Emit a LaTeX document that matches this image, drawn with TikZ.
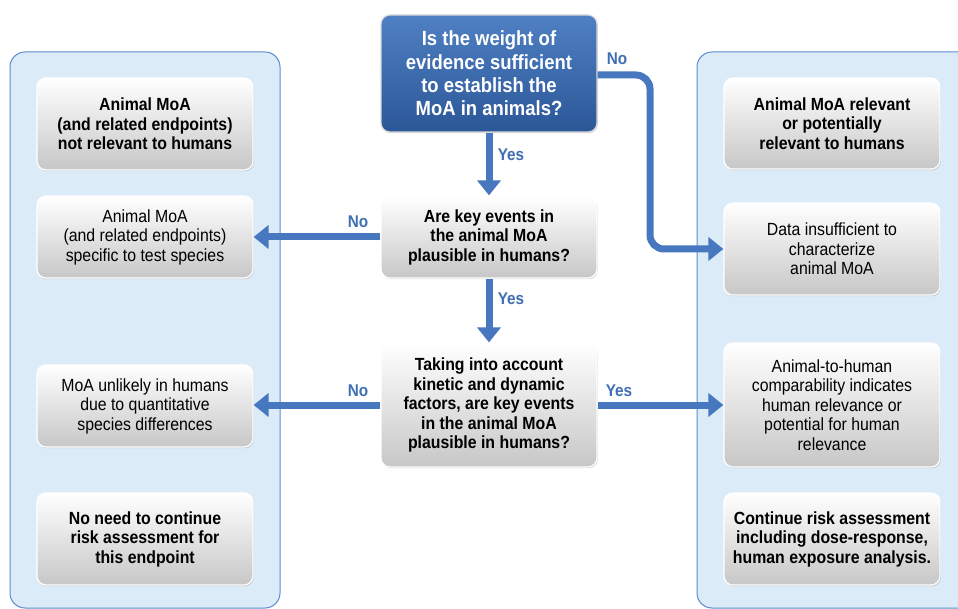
\documentclass[tikz,border=0pt]{standalone}
\usepackage{fontspec}
\setmainfont[FakeStretch=0.9]{Liberation Sans}
\usetikzlibrary{shadows,arrows.meta}
\definecolor{arrowblue}{HTML}{4677BF}
\definecolor{panelfill}{HTML}{DCEBF8}
\definecolor{paneldraw}{HTML}{5B8BD0}
\definecolor{qtop}{HTML}{4F80C3}
\definecolor{qbot}{HTML}{2B5797}
\definecolor{labelblue}{HTML}{3F6FB5}
\begin{document}
\begin{tikzpicture}[x=1pt,y=-1pt,
  panel/.style={fill=panelfill, draw=paneldraw, line width=1pt, rounded corners=15pt},
  graybox/.style={rectangle, rounded corners=9pt, minimum width=216pt, inner sep=0pt, align=center,
    top color=white, bottom color=black!22, draw=white, line width=1.2pt,
    drop shadow={shadow xshift=0.8pt, shadow yshift=-1.2pt, opacity=0.35},
    font=\fontsize{17.6}{19.5}\selectfont, text=black},
  boldtext/.style={font=\fontsize{17.6}{19.5}\selectfont\bfseries},
  bluebox/.style={rectangle, rounded corners=9pt, minimum width=216pt, inner sep=0pt, align=center,
    top color=qtop, bottom color=qbot, draw=white!85!black, line width=1.2pt,
    drop shadow={shadow xshift=0.8pt, shadow yshift=-1.2pt, opacity=0.35},
    font=\fontsize{20.5}{23.3}\selectfont\bfseries, text=white},
  conn/.style={draw=arrowblue, line width=7pt, -{Triangle[length=15pt,width=23pt]}},
  lab/.style={text=labelblue, font=\fontsize{17}{19}\selectfont\bfseries, inner sep=0pt}
]
\path[use as bounding box, clip] (0,0) rectangle (958,609);
\fill[white] (0,0) rectangle (958,609);

% panels
\draw[panel] (10,52) rectangle (280,608);
\draw[panel] (697,52) rectangle (990,608);

% central questions
\node[bluebox, minimum height=117pt] (q1) at (489,73.5)
  {Is the weight of\\evidence sufficient\\to establish the\\MoA in animals?};
\node[graybox, boldtext, minimum height=82pt] (q2) at (489,237)
  {Are key events in\\the animal MoA\\plausible in humans?};
\node[graybox, boldtext, minimum height=124pt] (q3) at (489,405)
  {Taking into account\\kinetic and dynamic\\factors, are key events\\in the animal MoA\\plausible in humans?};

% left column
\node[graybox, boldtext, minimum height=92pt] (L1) at (145,124)
  {Animal MoA\\(and related endpoints)\\not relevant to humans};
\node[graybox, minimum height=82pt] (L2) at (145,237)
  {Animal MoA\\(and related endpoints)\\specific to test species};
\node[graybox, minimum height=82pt] (L3) at (145,406)
  {MoA unlikely in humans\\due to quantitative\\species differences};
\node[graybox, boldtext, minimum height=92pt] (L4) at (145,539)
  {No need to continue\\risk assessment for\\this endpoint};

% right column
\node[graybox, boldtext, minimum height=91pt] (R1) at (832,123.5)
  {Animal MoA relevant\\or potentially\\relevant to humans};
\node[graybox, minimum height=92pt] (R2) at (832,249)
  {Data insufficient to\\characterize\\animal MoA};
\node[graybox, minimum height=124pt] (R3) at (832,405)
  {Animal-to-human\\comparability indicates\\human relevance or\\potential for human\\relevance};
\node[graybox, boldtext, minimum height=92pt] (R4) at (832,539)
  {Continue risk assessment\\including dose-response,\\human exposure analysis.};

% connectors
\coordinate (nobend) at (650,75);
\draw[conn] (q1.south) -- (q2.north);
\draw[conn] (q2.south) -- (q3.north);
\draw[conn] (q2.west) -- (L2.east);
\draw[conn] (q3.west) -- (q3.west -| L3.east);
\draw[conn] (q3.east) -- (R3.west);
\draw[conn, rounded corners=14pt] (q1.east |- nobend) -- (nobend) -- (nobend |- R2.west) -- (R2.west);

% labels
\node[lab] (lno1) at (617,59) {No};
\node[lab] (lyes1) at (511,155) {Yes};
\node[lab] (lno2) at (358,222) {No};
\node[lab] (lyes2) at (511,299) {Yes};
\node[lab] (lno3) at (358,391) {No};
\node[lab] (lyes3) at (619,391) {Yes};
\end{tikzpicture}
\end{document}
